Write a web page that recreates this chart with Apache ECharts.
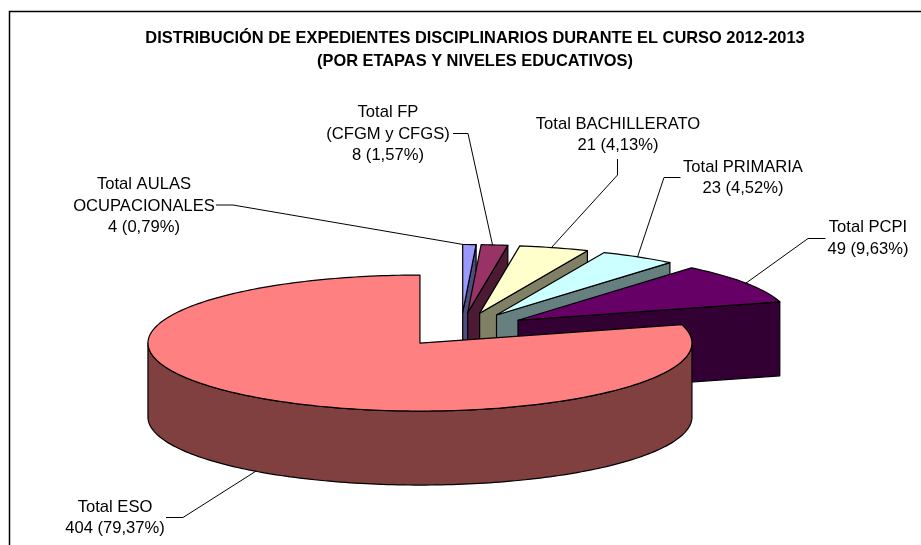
<!DOCTYPE html>
<html>
<head>
<meta charset="utf-8">
<style>
html, body { margin: 0; padding: 0; background: #fff; }
#chart { width: 921px; height: 545px; }
</style>
<script src="https://cdn.jsdelivr.net/npm/echarts@6/dist/echarts.min.js"></script>
</head>
<body>
<div id="chart"></div>
<script>
// clockwise from 12 o'clock, same order as the source sheet
var categories = ['Total AULAS\nOCUPACIONALES', 'Total FP\n(CFGM y CFGS)', 'Total BACHILLERATO', 'Total PRIMARIA', 'Total PCPI', 'Total ESO'];
var counts = [4, 8, 21, 23, 49, 404];
var percents = ['0,79%', '1,57%', '4,13%', '4,52%', '9,63%', '79,37%'];
var topColors = ['#9999FF', '#993366', '#FFFFCC', '#CCFFFF', '#660066', '#FF8080'];
var sideColors = ['#4D4D80', '#4D1A33', '#808066', '#668080', '#330033', '#804040'];

// pie layout
var cx = 461, cy = 329.5, rx = 272, ry = 68, depth = 74, explode = 68;
// label centres, leader elbows (label side first)
var labelPos = [[144, 206], [388, 134], [618, 135], [743, 178], [868, 238.5], [115, 518]];
var leaderPts = [
    [[216, 205], [233, 205]],
    [[453, 133.5], [468, 133.5]],
    [[617.5, 159], [617.5, 175]],
    [[680.5, 177.5], [664, 177.5]],
    [[825.5, 238.5], [808, 238.5]],
    [[166, 517.5], [183, 517.5]]
];
var leaderTipShift = [-6, -2, -3, -1, 0, 0];

var total = counts.reduce(function (a, b) { return a + b; }, 0);

function sliceGeom(idx) {
    var before = 0;
    for (var i = 0; i < idx; i++) before += counts[i];
    var start = before / total * Math.PI * 2;
    var end = (before + counts[idx]) / total * Math.PI * 2;
    var mid = (start + end) / 2;
    return {
        start: start,
        end: end,
        mid: mid,
        x: cx + explode * Math.sin(mid),
        y: cy - explode * (ry / rx) * Math.cos(mid)
    };
}

function rim(g, a) {
    return [g.x + rx * Math.sin(a), g.y - ry * Math.cos(a)];
}

function arcPoints(g, from, to) {
    var pts = [];
    var n = Math.max(2, Math.ceil((to - from) / 0.02));
    for (var i = 0; i <= n; i++) pts.push(rim(g, from + (to - from) * i / n));
    return pts;
}

function face(points, fill) {
    return {
        type: 'polygon',
        shape: { points: points },
        style: { fill: fill, stroke: '#000', lineWidth: 1.2, lineJoin: 'round' }
    };
}

function renderSlice(params) {
    var i = params.dataIndex;
    var g = sliceGeom(i);
    var children = [];
    var endPt = rim(g, g.end);

    // straight cut facing the viewer
    if (g.end < Math.PI) {
        children.push(face([
            [g.x, g.y], endPt, [endPt[0], endPt[1] + depth], [g.x, g.y + depth]
        ], sideColors[i]));
    }
    // outer wall, only the front half of the ellipse shows
    var wallFrom = Math.max(g.start, Math.PI / 2);
    var wallTo = Math.min(g.end, Math.PI * 1.5);
    if (wallTo > wallFrom) {
        var upper = arcPoints(g, wallFrom, wallTo);
        var lower = upper.map(function (p) { return [p[0], p[1] + depth]; }).reverse();
        children.push(face(upper.concat(lower), sideColors[i]));
    }
    children.push(face([[g.x, g.y]].concat(arcPoints(g, g.start, g.end)), topColors[i]));
    return { type: 'group', children: children };
}

function renderLabel(params) {
    var i = params.dataIndex;
    var g = sliceGeom(i);
    var tip = rim(g, g.mid);
    // the ESO leader lands on the bottom edge of the wall
    if (Math.cos(g.mid) < 0) tip[1] += depth;
    tip[0] += leaderTipShift[i];
    return {
        type: 'group',
        children: [{
            type: 'polyline',
            shape: { points: leaderPts[i].concat([tip]) },
            style: { fill: null, stroke: '#000', lineWidth: 1 }
        }, {
            type: 'text',
            style: {
                text: categories[i] + '\n' + counts[i] + ' (' + percents[i] + ')',
                x: labelPos[i][0],
                y: labelPos[i][1],
                align: 'center',
                verticalAlign: 'middle',
                fill: '#000',
                font: '16.6px "Liberation Sans"',
                lineHeight: 21.5
            }
        }]
    };
}

var option = {
    backgroundColor: '#fff',
    animation: false,
    title: {
        text: 'DISTRIBUCIÓN DE EXPEDIENTES DISCIPLINARIOS DURANTE EL CURSO 2012-2013\n(POR ETAPAS Y NIVELES EDUCATIVOS)',
        left: 474,
        top: 22,
        textAlign: 'center',
        textStyle: {
            color: '#000',
            fontFamily: 'Liberation Sans',
            fontSize: 16.4,
            fontWeight: 'bold',
            lineHeight: 23
        }
    },
    graphic: [{
        type: 'polyline',
        shape: { points: [[9.5, 545], [9.5, 11.5], [921, 11.5]] },
        style: { fill: null, stroke: '#000', lineWidth: 1.5 }
    }],
    series: [{
        type: 'custom',
        coordinateSystem: 'none',
        renderItem: renderSlice,
        data: counts,
        silent: true,
        z: 2
    }, {
        type: 'custom',
        coordinateSystem: 'none',
        renderItem: renderLabel,
        data: counts,
        silent: true,
        z: 3
    }]
};
option.title.left = 470;

var pieChart = echarts.init(document.getElementById('chart'));
pieChart.setOption(option);
</script>
</body>
</html>
